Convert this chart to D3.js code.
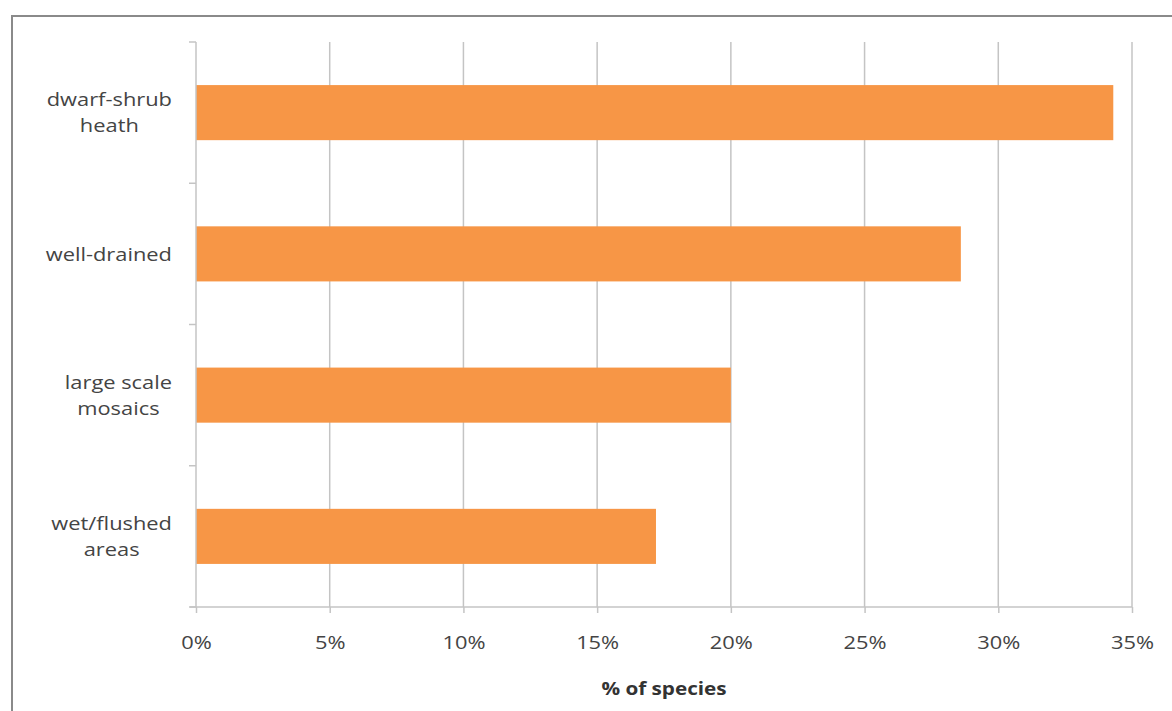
<!DOCTYPE html>
<html><head><meta charset="utf-8">
<script src="https://cdn.jsdelivr.net/npm/d3@7"></script>
<style>body{margin:0;background:#fff}svg{display:block}</style>
</head><body>
<script>
const categories = [["dwarf-shrub","heath"],["well-drained"],["large scale","mosaics"],["wet/flushed","areas"]];
const values = [34.3, 28.6, 20.0, 17.2];
const xTicks = [0,5,10,15,20,25,30,35];
const xTitle = "% of species";

const W=1172,H=711;
const svg=d3.select("body").append("svg").attr("width",W).attr("height",H);
const font="'Open Sans', sans-serif";
const sx=1.15;
// outer frame
svg.append("rect").attr("x",12).attr("y",16).attr("width",W+20).attr("height",H+20)
  .attr("fill","none").attr("stroke","#8a8a8a").attr("stroke-width",2);

const L=196,R=1132,T=42,B=607;
const x=d3.scaleLinear().domain([0,35]).range([L,R]);
const y=d3.scaleBand().domain(d3.range(categories.length)).range([T,B]).paddingInner(0.61).paddingOuter(0.305);

// gridlines
svg.append("g").selectAll("line").data(xTicks.slice(1)).join("line")
  .attr("x1",d=>x(d)).attr("x2",d=>x(d)).attr("y1",T).attr("y2",B)
  .attr("stroke","#c4c4c4").attr("stroke-width",1.5);

// bars
svg.append("g").selectAll("rect").data(values).join("rect")
  .attr("x",x(0)).attr("y",(d,i)=>y(i)).attr("width",d=>x(d)-x(0)).attr("height",y.bandwidth())
  .attr("fill","#F79646");

// x axis
const xa=svg.append("g").attr("transform",`translate(0,${B})`)
  .call(d3.axisBottom(x).tickValues(xTicks).tickFormat(d=>d+"%").tickSize(6).tickPadding(23));
xa.select(".domain").attr("stroke","#c4c4c4").attr("stroke-width",1.5).attr("d",`M${L-6},0H${R}`);
xa.selectAll(".tick line").attr("stroke","#c4c4c4").attr("stroke-width",1.5);
xa.selectAll("text").attr("font-family",font).attr("font-size",19).attr("fill","#444")
  .attr("transform",`scale(${sx},1)`);

// y axis line and ticks at band boundaries
const yb=d3.scaleLinear().domain([0,categories.length]).range([T,B]);
svg.append("line").attr("x1",L).attr("x2",L).attr("y1",T).attr("y2",B).attr("stroke","#c4c4c4").attr("stroke-width",1.5);
svg.append("g").selectAll("line").data(d3.range(categories.length+1)).join("line")
  .attr("x1",L-7).attr("x2",L).attr("y1",d=>yb(d)).attr("y2",d=>yb(d)).attr("stroke","#c4c4c4").attr("stroke-width",1.5);

// y labels
const lh=26;
categories.forEach((lines,i)=>{
  const cy=y(i)+y.bandwidth()/2;
  const g=svg.append("g");
  const t=g.append("text").attr("font-family",font).attr("font-size",19).attr("fill","#444").attr("text-anchor","middle");
  lines.forEach((s,j)=>{
    t.append("tspan").attr("x",0).attr("y",cy+(j-(lines.length-1)/2)*lh).attr("dy","0.35em").text(s);
  });
  const bw=t.node().getBBox().width*sx;
  g.attr("transform",`translate(${172-bw/2},0) scale(${sx},1)`);
});

// x title
svg.append("g").attr("transform",`translate(${(L+R)/2},689) scale(${sx},1)`)
  .append("text").attr("dy","0.35em").attr("text-anchor","middle")
  .attr("font-family",font).attr("font-size",18).attr("font-weight","bold").attr("fill","#333").text(xTitle);
</script>
</body></html>
